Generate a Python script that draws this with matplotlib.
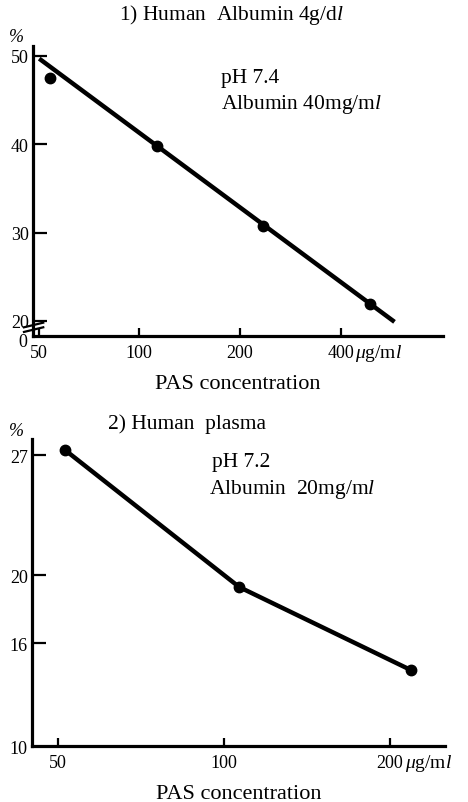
import matplotlib
matplotlib.use('Agg')
from matplotlib import pyplot as plt
from matplotlib.ticker import FixedLocator, NullLocator

plt.rcParams['font.family'] = ['Liberation Serif', 'DejaVu Serif']
plt.rcParams['mathtext.fontset'] = 'custom'
plt.rcParams['mathtext.rm'] = 'Liberation Serif'
plt.rcParams['mathtext.it'] = 'Liberation Serif:italic'

# panel 1: human albumin 4 g/dl, pH 7.4
albumin_conc = [54, 113, 234, 490]
albumin_bound = [47.5, 39.8, 30.8, 21.9]
albumin_fit_conc = [50.2, 580]
albumin_fit_bound = [49.7, 19.9]
albumin_xticks = [50, 100, 200, 400]
albumin_yticks = [20, 30, 40, 50]

# panel 2: human plasma, pH 7.2
plasma_conc = [51.5, 106.5, 218]
plasma_bound = [27.3, 19.3, 14.45]
plasma_xticks = [50, 100, 200]
plasma_yticks = [10, 16, 20, 27]

W, H = 468, 803
fig = plt.figure(figsize=(W / 100, H / 100), dpi=100)


def px_axes(left, top, right, bottom):
    return fig.add_axes([left / W, 1 - bottom / H, (right - left) / W, (bottom - top) / H])


def px_text(x, y, s, size=15.5, ha='left', **kw):
    fig.text(x / W, 1 - y / H, s, ha=ha, va='center', fontsize=size, **kw)


def style(ax):
    for side in ('top', 'right'):
        ax.spines[side].set_visible(False)
    for side in ('left', 'bottom'):
        ax.spines[side].set_linewidth(2.3)
    ax.tick_params(direction='in', width=1.6, labelsize=13)
    ax.tick_params(axis='x', length=6, pad=6)
    ax.tick_params(axis='y', length=10, pad=3)
    ax.xaxis.set_minor_locator(NullLocator())


unit = r'$\mu$g/m$\mathit{l}$'

# ---- panel 1
ax1 = px_axes(33, 47, 443, 337)
ax1.set_xscale('log')
ax1.set_xlim(48.1, 810)
ax1.set_ylim(18.3, 51.13)
ax1.plot(albumin_fit_conc, albumin_fit_bound, color='black', lw=3.2, solid_capstyle='butt')
ax1.plot(albumin_conc, albumin_bound, 'o', color='black', ms=7.5)
style(ax1)
ax1.xaxis.set_major_locator(FixedLocator(albumin_xticks))
ax1.set_xticklabels([str(v) for v in albumin_xticks])
ax1.set_yticks(albumin_yticks)
ax1.set_yticklabels([str(v) for v in albumin_yticks])
ax1.annotate(unit, xy=(400, 0), xycoords=('data', 'axes fraction'),
             xytext=(10.5, -4.5), textcoords='offset points', ha='left', va='top', fontsize=14)
# axis break marks
for dy in (0.022, 0.038):
    ax1.plot([-0.022, 0.025], [dy - 0.008, dy + 0.008], transform=ax1.transAxes,
             color='black', lw=1.6, clip_on=False)
ax1.set_xlabel('PAS concentration', fontsize=16, labelpad=9)
px_text(27, 343, '0', size=13, ha='right')
px_text(231, 15, r'1) Human  Albumin 4g/d$\mathit{l}$', ha='center')
px_text(16, 38, '%', size=13, ha='center', style='italic')
px_text(221, 79, 'pH 7.4')
px_text(221, 105, r'Albumin 40mg/m$\mathit{l}$')

# ---- panel 2
ax2 = px_axes(32, 440, 445, 747)
ax2.set_xscale('log')
ax2.set_xlim(44.8, 251.7)
ax2.set_ylim(10, 27.96)
ax2.plot(plasma_conc, plasma_bound, color='black', lw=3.2, marker='o', ms=7.5)
style(ax2)
ax2.xaxis.set_major_locator(FixedLocator(plasma_xticks))
ax2.set_xticklabels([str(v) for v in plasma_xticks])
ax2.set_yticks(plasma_yticks)
ax2.set_yticklabels([str(v) for v in plasma_yticks])
ax2.yaxis.get_major_ticks()[0].tick1line.set_visible(False)
ax2.annotate(unit, xy=(200, 0), xycoords=('data', 'axes fraction'),
             xytext=(10.5, -4.5), textcoords='offset points', ha='left', va='top', fontsize=14)
ax2.set_xlabel('PAS concentration', fontsize=16, labelpad=9)
px_text(187, 424, '2) Human  plasma', ha='center')
px_text(16, 432, '%', size=13, ha='center', style='italic')
px_text(212, 463, 'pH 7.2')
px_text(209, 490, r'Albumin  20mg/m$\mathit{l}$')

fig.savefig('out.png', dpi=100, facecolor='white')
